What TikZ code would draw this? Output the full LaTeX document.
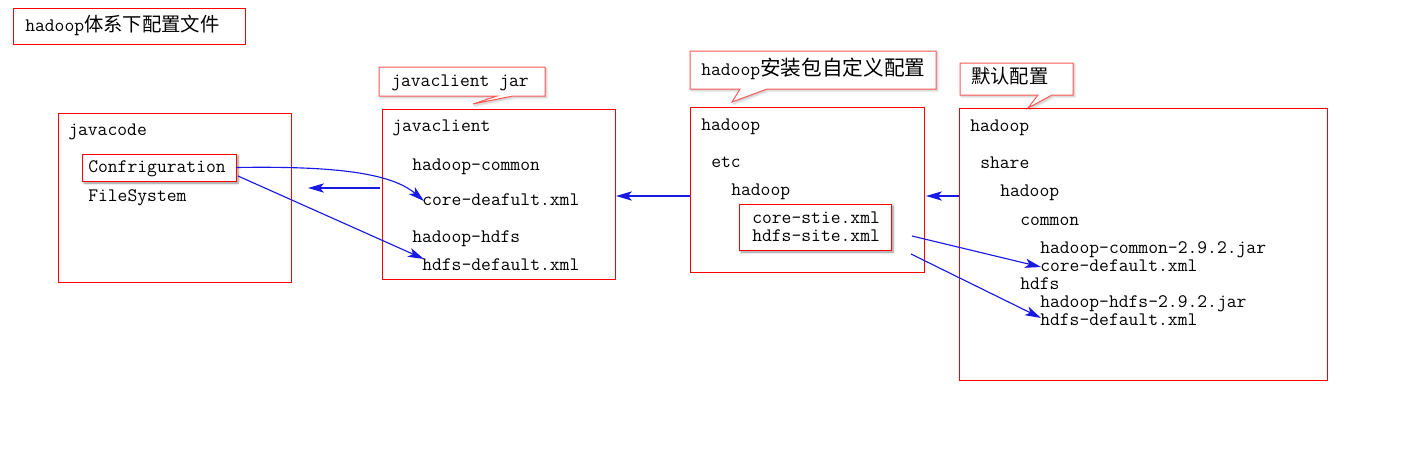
\documentclass[tikz,border=0pt]{standalone}
\usepackage{fontspec}
\newfontfamily\cjk{Noto Sans CJK SC}
\usetikzlibrary{arrows.meta,shadows.blur}
\definecolor{arrblue}{RGB}{25,25,230}
\definecolor{calred}{RGB}{255,90,90}
\newcommand\zh[2][14.5]{{\cjk\fontsize{#1}{#1}\selectfont #2}}
\begin{document}
\begin{tikzpicture}[x=0.75pt,y=-0.75pt,
  box/.style={draw=red, line width=0.75pt, inner sep=0pt, outer sep=0pt, anchor=north west},
  shbox/.style={box, fill=white, blur shadow={shadow xshift=1.5pt, shadow yshift=-1.5pt, shadow blur steps=6, shadow opacity=45}},
  callout/.style={draw=calred, line width=0.75pt, fill=white, blur shadow={shadow xshift=1.2pt, shadow yshift=-1.2pt, shadow blur steps=5, shadow opacity=25}},
  txt/.style={anchor=base west, yshift=-3.75pt, inner sep=0pt, font=\ttfamily\fontsize{14.3}{16}\selectfont},
  arr/.style={draw=arrblue, line width=0.85pt, -{Stealth[length=12pt,width=7pt,inset=3pt]}}]
\useasboundingbox (0,0) rectangle (1409,454);

% title
\node[box, minimum width=232*0.75pt, minimum height=36*0.75pt] (title) at (13,8) {};
\node[txt] (titletxt) at (25,26) {hadoop\zh{体系下配置文件}};

% callouts
\draw[callout] (379,67) -- (545,67) -- (545,96) -- (513,96) -- (473,104) -- (497,96) -- (379,96) -- cycle;
\node[txt] (c1txt) at (391,81) {javaclient jar};
\draw[callout] (690,51) -- (936,51) -- (936,89) -- (767,89) -- (732,102) -- (740,89) -- (690,89) -- cycle;
\node[txt] (c2txt) at (701,70) {hadoop\zh[15.5]{安装包自定义配置}};
\draw[callout] (960,63) -- (1073,63) -- (1073,95) -- (1052,95) -- (1028,108) -- (1038,95) -- (960,95) -- cycle;
\node[txt] (c3txt) at (971,78) {\zh{默认配置}};

% main boxes
\node[box, minimum width=233*0.75pt, minimum height=169*0.75pt] (jcode) at (58,113) {};
\node[box, minimum width=233*0.75pt, minimum height=170*0.75pt] (jclient) at (382,109) {};
\node[box, minimum width=234*0.75pt, minimum height=165*0.75pt] (hd) at (690,107) {};
\node[box, minimum width=368*0.75pt, minimum height=272*0.75pt] (def) at (959,108) {};

% javacode box
\node[txt] (javacode) at (68,130) {javacode};
\node[shbox, minimum width=154*0.75pt, minimum height=27*0.75pt] (conf) at (82,154) {};
\node[txt] (conftxt) at (88,167) {Confriguration};
\node[txt] (fs) at (88,196) {FileSystem};

% javaclient box
\node[txt] (jctxt) at (392,126) {javaclient};
\node[txt] (hcommon) at (412,165) {hadoop-common};
\node[txt] (cdx) at (422,200) {core-deafult.xml};
\node[txt] (hhdfs) at (412,237) {hadoop-hdfs};
\node[txt] (hdx) at (422,265) {hdfs-default.xml};

% hadoop box
\node[txt] (hd1) at (701,125) {hadoop};
\node[txt] (etc) at (711,162) {etc};
\node[txt] (hd2) at (731,190) {hadoop};
\node[shbox, minimum width=152*0.75pt, minimum height=46*0.75pt] (site) at (739,204) {};
\node[txt] (coresite) at (752,218) {core-stie.xml};
\node[txt] (hdfssite) at (752,236) {hdfs-site.xml};

% default box
\node[txt] (d1) at (970,126) {hadoop};
\node[txt] (share) at (980,163) {share};
\node[txt] (d2) at (1000,191) {hadoop};
\node[txt] (common) at (1020,220) {common};
\node[txt] (hcjar) at (1040,248) {hadoop-common-2.9.2.jar};
\node[txt] (cdd) at (1040,266) {core-default.xml};
\node[txt] (hdfs) at (1020,284) {hdfs};
\node[txt] (hhjar) at (1040,302) {hadoop-hdfs-2.9.2.jar};
\node[txt] (hdd) at (1040,320) {hdfs-default.xml};

% connectors
\coordinate (ylev) at (0,196);
\coordinate (a2s) at (380,188);
\coordinate (a2e) at (308,188);
\coordinate (a3s) at (238,176);
\coordinate (a6s) at (912,236);
\coordinate (a7s) at (911,254);
\coordinate (a1e) at (424,201);
\coordinate (a3e) at (424,259);
\coordinate (a6e) at (1041,267);
\coordinate (a7e) at (1041,318);

\draw[arr] (conf.east) .. controls (330,166) and (390,172) .. (a1e);
\draw[arr] (a2s) -- (a2e);
\draw[arr] (a3s) -- (a3e);
\draw[arr] (hd.west |- ylev) -- ([xshift=0.75pt]jclient.east |- ylev);
\draw[arr] (def.west |- ylev) -- ([xshift=1.5pt]hd.east |- ylev);
\draw[arr] (a6s) -- (a6e);
\draw[arr] (a7s) -- (a7e);
\end{tikzpicture}
\end{document}
